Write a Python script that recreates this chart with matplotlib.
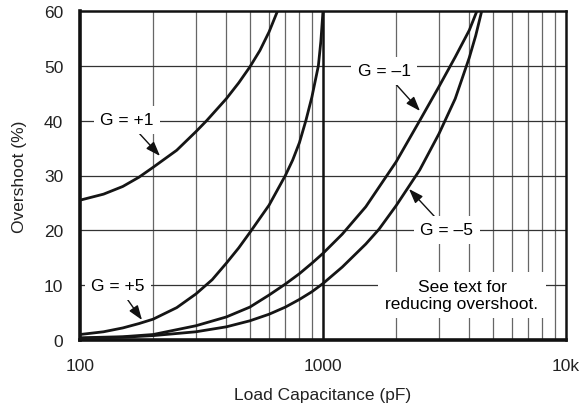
import matplotlib
matplotlib.use("Agg")
import matplotlib.pyplot as plt
from matplotlib.ticker import FixedLocator, NullLocator

plt.rcParams['font.family'] = ['Liberation Sans', 'DejaVu Sans']

# ---- data ----
cap_g1 = [100, 125, 150, 175, 200, 250, 300, 332, 400, 450, 500, 550, 600, 650]
ovs_g1 = [25.5, 26.6, 28.0, 29.7, 31.5, 34.6, 38.0, 40.0, 44.0, 46.9, 49.8, 52.8, 56.2, 60.0]

cap_g5 = [100, 125, 150, 175, 200, 250, 300, 350, 400, 450, 500, 600, 700, 750, 800, 850, 900, 957, 980, 1000]
ovs_g5 = [1.0, 1.5, 2.2, 3.0, 3.8, 5.9, 8.4, 11.0, 14.0, 16.8, 19.6, 24.6, 30.0, 32.8, 36.0, 40.0, 44.3, 50.0, 54.5, 60.0]

cap_gm1 = [100, 150, 200, 300, 400, 500, 600, 700, 800, 900, 1000, 1200, 1500, 2000, 2500, 3000, 3500, 4000, 4300]
ovs_gm1 = [0.4, 0.6, 1.0, 2.6, 4.2, 6.0, 8.2, 10.2, 12.1, 14.0, 15.8, 19.3, 24.3, 32.5, 40.0, 46.2, 51.6, 56.5, 60.0]

cap_gm5 = [100, 150, 200, 300, 400, 500, 600, 700, 800, 900, 1000, 1200, 1500, 1700, 2000, 2500, 3000, 3500, 4000, 4250, 4500]
ovs_gm5 = [0.3, 0.5, 0.8, 1.5, 2.4, 3.5, 4.7, 6.0, 7.4, 8.8, 10.3, 13.3, 17.5, 20.2, 24.5, 31.0, 37.6, 44.0, 51.5, 55.5, 60.0]

x_ticks = [100, 1000, 10000]
x_tick_labels = ["100", "1000", "10k"]
y_ticks = [0, 10, 20, 30, 40, 50, 60]
minor_x = [200, 300, 400, 500, 600, 700, 800, 900,
           2000, 3000, 4000, 5000, 6000, 7000, 8000, 9000]

FS = 12.5

# ---- figure ----
fig = plt.figure(figsize=(5.81, 4.14), dpi=100)
W, H = 581, 414
ax = fig.add_axes([80 / W, (H - 341) / H, 486 / W, 329 / H])
ax.set_xscale('log')
ax.set_xlim(100, 10000)
ax.set_ylim(0, 60)

# grid
for xv in minor_x:
    ax.axvline(xv, color='#666666', lw=0.9, zorder=1)
for yv in y_ticks[1:-1]:
    ax.axhline(yv, color='#333333', lw=0.9, zorder=1)
ax.axvline(1000, color='#111111', lw=1.8, zorder=1)

for s in ax.spines.values():
    s.set_linewidth(1.8)
    s.set_color('#111111')
ax.spines['left'].set_linewidth(2.6)
ax.spines['bottom'].set_linewidth(2.6)

lc = '#151515'
lw = 2.0
for cx, cy in [(cap_g1, ovs_g1), (cap_g5, ovs_g5), (cap_gm1, ovs_gm1), (cap_gm5, ovs_gm5)]:
    ax.plot(cx, cy, color=lc, lw=lw, zorder=3, solid_capstyle='butt', solid_joinstyle='round')

ax.xaxis.set_major_locator(FixedLocator(x_ticks))
ax.xaxis.set_minor_locator(NullLocator())
ax.set_xticks(x_ticks)
ax.set_xticklabels(x_tick_labels)
ax.set_yticks(y_ticks)
ax.tick_params(axis='both', length=0, labelsize=FS, colors='#222222')
ax.tick_params(axis='x', pad=13)
ax.tick_params(axis='y', pad=12)

ax.set_xlabel('Load Capacitance (pF)', fontsize=FS, color='#222222', labelpad=10)
ax.set_ylabel('Overshoot (%)', fontsize=FS, color='#222222', labelpad=12)

box = dict(boxstyle='square,pad=0.35', fc='white', ec='none')
arrow = dict(arrowstyle='-|>,head_length=0.7,head_width=0.25', color='#111111', lw=1.0,
             shrinkA=0, shrinkB=0)

def px(xp, yp):
    # convert a reference pixel position to data coordinates (for label placement)
    lx = 2 + (xp - 80) / 243.0
    return 10 ** lx, (341 - yp) / 5.483

ax.annotate('G = +1', xy=px(160, 157), xytext=px(127, 121), fontsize=FS,
            ha='center', va='center', bbox=box, arrowprops=arrow, zorder=5)
ax.annotate('G = +5', xy=px(142, 321), xytext=px(118, 287), fontsize=FS,
            ha='center', va='center', bbox=box, arrowprops=arrow, zorder=5)
ax.annotate('G = \u20131', xy=px(420, 112), xytext=px(384, 72), fontsize=FS,
            ha='center', va='center', bbox=box, arrowprops=arrow, zorder=5)
ax.annotate('G = \u20135', xy=px(409, 190), xytext=px(447, 231), fontsize=FS,
            ha='center', va='center', bbox=box, arrowprops=arrow, zorder=5)
ax.text(*px(462, 296), 'See text for\nreducing overshoot.', fontsize=FS,
        ha='center', va='center', linespacing=1.2,
        bbox=dict(boxstyle='square,pad=0.4', fc='white', ec='none'), zorder=5)

fig.savefig('out.png', dpi=100)
